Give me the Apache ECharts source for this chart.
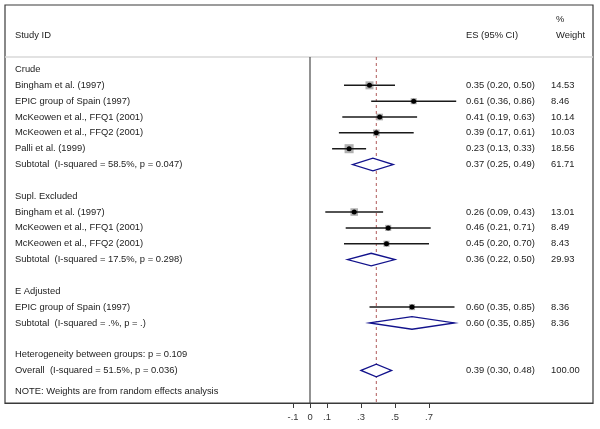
<!DOCTYPE html>
<html>
<head>
<meta charset="utf-8">
<script src="https://cdn.jsdelivr.net/npm/echarts@6/dist/echarts.min.js"></script>
<style>html,body{margin:0;padding:0;background:#fff}#c{width:600px;height:429px}</style>
</head>
<body>
<div id="c"></div>
<script>
const rowLabels = [
  'Crude',
  'Bingham et al. (1997)',
  'EPIC group of Spain (1997)',
  'McKeowen et al., FFQ1 (2001)',
  'McKeowen et al., FFQ2 (2001)',
  'Palli et al. (1999)',
  'Subtotal  (I-squared = 58.5%, p = 0.047)',
  '',
  'Supl. Excluded',
  'Bingham et al. (1997)',
  'McKeowen et al., FFQ1 (2001)',
  'McKeowen et al., FFQ2 (2001)',
  'Subtotal  (I-squared = 17.5%, p = 0.298)',
  '',
  'E Adjusted',
  'EPIC group of Spain (1997)',
  'Subtotal  (I-squared = .%, p = .)',
  '',
  'Heterogeneity between groups: p = 0.109',
  'Overall  (I-squared = 51.5%, p = 0.036)'
];
const rowKind = ['g','s','s','s','s','s','d','','g','s','s','s','d','','g','s','d','','t','d'];
const es     = [null,0.35,0.61,0.41,0.39,0.23,0.37,null,null,0.26,0.46,0.45,0.36,null,null,0.60,0.60,null,null,0.39];
const lo     = [null,0.20,0.36,0.19,0.17,0.13,0.25,null,null,0.09,0.21,0.20,0.22,null,null,0.35,0.35,null,null,0.30];
const hi     = [null,0.50,0.86,0.63,0.61,0.33,0.49,null,null,0.43,0.71,0.70,0.50,null,null,0.85,0.85,null,null,0.48];
const weight = [null,14.53,8.46,10.14,10.03,18.56,61.71,null,null,13.01,8.49,8.43,29.93,null,null,8.36,8.36,null,null,100.00];
const xTicks = [-0.1, 0, 0.1, 0.3, 0.5, 0.7];
const headers = { study: 'Study ID', es: 'ES (95% CI)', pct: '%', weight: 'Weight' };
const note = 'NOTE: Weights are from random effects analysis';

const FONT = 'Liberation Sans, Arial, Helvetica, sans-serif';
const FS = 9.4;
const TXT = '#222';
const X_MIN = -1.7941, X_MAX = 1.6647;
const Y_MIN = -4.072, Y_MAX = 21.054, HEAD_Y = -0.789;

const labelIdx = rowLabels.map((l,i)=>l ? i : -1).filter(i=>i>=0);
const dataIdx = es.map((v,i)=>v!==null ? i : -1).filter(i=>i>=0);
const overallES = es[rowKind.lastIndexOf('d')];

const markData = dataIdx.map(i => [i, es[i], lo[i], hi[i], weight[i], rowKind[i]==='d' ? 1 : 0]);

function fmtTick(v){
  if (v === 0) return '0';
  return (v < 0 ? '-' : '') + String(Math.abs(v)).replace(/^0/, '');
}

const chart = echarts.init(document.getElementById('c'), null, {renderer:'canvas'});
const ySpec = (extra) => Object.assign({
  type:'value', min:Y_MIN, max:Y_MAX, inverse:true, gridIndex:0,
  axisLine:{show:false, onZero:false}, axisTick:{show:false}, splitLine:{show:false}
}, extra);
const titleSpec = (text, left, top) => ({
  text, left, top, padding:0,
  textStyle:{fontSize:FS, fontWeight:'normal', color:TXT, fontFamily:FONT}
});

chart.setOption({
  backgroundColor:'#fff',
  animation:false,
  title:[
    titleSpec(headers.study, 15, 31),
    titleSpec(headers.es, 466, 31),
    titleSpec(headers.pct, 556, 15),
    titleSpec(headers.weight, 556, 31),
    titleSpec(note, 15, 387)
  ],
  grid:{left:5, right:7, top:5, bottom:26, show:true, borderColor:'#3a3a3a', borderWidth:1.2, backgroundColor:'transparent', outerBoundsMode:'none'},
  xAxis:{
    type:'value', min:X_MIN, max:X_MAX,
    axisLine:{show:true, onZero:false, lineStyle:{color:'#3a3a3a', width:1.2}},
    axisTick:{show:true, length:5, lineStyle:{color:'#3a3a3a'}, customValues:xTicks},
    axisLabel:{customValues:xTicks, formatter:fmtTick, fontSize:FS, color:'#333', fontFamily:FONT, margin:10},
    splitLine:{show:false}
  },
  yAxis:[
    ySpec({position:'left', axisLabel:{inside:true, align:'left', margin:10, customValues:labelIdx,
      formatter:v=>rowLabels[Math.round(v)], fontSize:FS, color:TXT, fontFamily:FONT}}),
    ySpec({position:'right', axisLabel:{inside:true, align:'left', margin:127, customValues:dataIdx,
      formatter:v=>{const i=Math.round(v); return es[i].toFixed(2)+' ('+lo[i].toFixed(2)+', '+hi[i].toFixed(2)+')';},
      fontSize:FS, color:TXT, fontFamily:FONT}}),
    ySpec({position:'right', axisLabel:{inside:true, align:'left', margin:42, customValues:dataIdx,
      formatter:v=>weight[Math.round(v)].toFixed(2), fontSize:FS, color:TXT, fontFamily:FONT}})
  ],
  series:[
    {type:'line', silent:true, symbol:'none', z:1, data:[[X_MIN,HEAD_Y],[X_MAX,HEAD_Y]],
      lineStyle:{color:'#d9d9d9', width:1.5}},
    {type:'line', silent:true, symbol:'none', z:2, data:[[0,HEAD_Y],[0,Y_MAX]],
      lineStyle:{color:'#3a3a3a', width:1.1}},
    {type:'line', silent:true, symbol:'none', z:2, data:[[overallES,HEAD_Y],[overallES,Y_MAX]],
      lineStyle:{color:'#b05a5a', width:1, type:[3,3]}},
    {type:'custom', z:5, silent:true, data:markData, encode:{x:[1,2,3], y:0},
      renderItem:function(params, api){
        const y = api.value(0), e = api.value(1), l = api.value(2), h = api.value(3), w = api.value(4), d = api.value(5);
        const pe = api.coord([e,y]), pl = api.coord([l,y]), ph = api.coord([h,y]);
        if (d === 1) {
          const hh = 6.3;
          return {type:'polygon', shape:{points:[[pl[0],pe[1]],[pe[0],pe[1]-hh],[ph[0],pe[1]],[pe[0],pe[1]+hh]]},
            style:{fill:'#fff', stroke:'#12128c', lineWidth:1.3}};
        }
        const s = 2.1*Math.sqrt(w);
        return {type:'group', children:[
          {type:'rect', shape:{x:pe[0]-s/2, y:pe[1]-s/2, width:s, height:s}, style:{fill:'#b0b0b0'}},
          {type:'line', shape:{x1:pl[0], y1:pe[1], x2:ph[0], y2:pe[1]}, style:{stroke:'#1a1a1a', lineWidth:1.5}},
          {type:'circle', shape:{cx:pe[0], cy:pe[1], r:2.5}, style:{fill:'#000'}}
        ]};
      }}
  ]
});
</script>
</body>
</html>
